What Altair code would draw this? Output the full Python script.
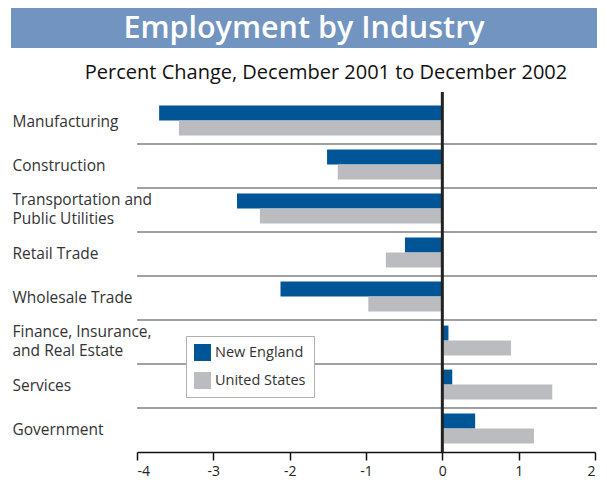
import altair as alt
import pandas as pd

industries = [
    "Manufacturing",
    "Construction",
    "Transportation and|Public Utilities",
    "Retail Trade",
    "Wholesale Trade",
    "Finance, Insurance,|and Real Estate",
    "Services",
    "Government",
]
new_england = [-3.71, -1.51, -2.69, -0.49, -2.12, 0.08, 0.13, 0.43]
united_states = [-3.45, -1.37, -2.39, -0.74, -0.97, 0.90, 1.44, 1.20]
series = ["New England", "United States"]
series_colors = ["#005596", "#bbbcc0"]
x_ticks = [-4, -3, -2, -1, 0, 1, 2]

title_text = "Employment by Industry"
subtitle_text = "Percent Change, December 2001 to December 2002"

FONT = "Open Sans"
W, H = 458, 352

rows = []
for ind, ne, us in zip(industries, new_england, united_states):
    rows.append({"industry": ind, "series": series[0], "value": ne})
    rows.append({"industry": ind, "series": series[1], "value": us})
df = pd.DataFrame(rows)

y_enc = alt.Y(
    "industry:N",
    sort=industries,
    scale=alt.Scale(paddingInner=0, paddingOuter=0),
    axis=alt.Axis(
        title=None,
        ticks=False,
        domain=False,
        labelAlign="left",
        labelPadding=125,
        labelFont=FONT,
        labelFontSize=15.5,
        labelColor="#333333",
        labelLineHeight=19,
        labelLimit=200,
        labelOffset={
            "condition": {"test": "indexof(datum.value, '|') >= 0", "value": -10},
            "value": 0,
        },
        labelExpr="split(datum.label, '|')",
    ),
)

x_scale = alt.Scale(domain=[-4, 2], nice=False, zero=False)

bars = alt.Chart(df).mark_bar(cornerRadius=0).encode(
    x=alt.X(
        "value:Q",
        scale=x_scale,
        axis=alt.Axis(
            title=None,
            values=x_ticks,
            grid=False,
            domainColor="#111111",
            domainWidth=1.5,
            tickColor="#111111",
            tickWidth=1.5,
            tickSize=8,
            labelFont=FONT,
            labelFontSize=14,
            labelColor="#222222",
            labelPadding=4,
            labelExpr="'' + datum.value",
        ),
    ),
    y=y_enc,
    yOffset=alt.YOffset(
        "series:N",
        sort=series,
        scale=alt.Scale(paddingInner=0, paddingOuter=0.4667, align=0.4),
    ),
    color=alt.Color(
        "series:N",
        sort=series,
        scale=alt.Scale(domain=series, range=series_colors),
        legend=alt.Legend(
            title=None,
            orient="none",
            legendX=49,
            legendY=236,
            direction="vertical",
            fillColor="white",
            strokeColor="#b0b0b0",
            padding=8,
            symbolType="square",
            symbolSize=289,
            symbolStrokeWidth=0,
            labelFont=FONT,
            labelFontSize=14.5,
            labelColor="#333333",
            labelOffset=4,
            rowPadding=11,
        ),
    ),
)

sep_df = pd.DataFrame({"industry": industries[:-1]})
separators = alt.Chart(sep_df).mark_rule(color="#a0a0a0", strokeWidth=2).encode(
    y=alt.Y("industry:N", sort=industries, bandPosition=1),
    x=alt.value(0),
    x2=alt.value(W + 2),
)

zero_line = alt.Chart(pd.DataFrame({"z": [0]})).mark_rule(
    color="#222222", strokeWidth=3
).encode(
    x=alt.X("z:Q", scale=x_scale),
    y=alt.value(-8),
    y2=alt.value(H),
)

banner = alt.Chart(pd.DataFrame({"t": [title_text]})).mark_rect(
    color="#7294c1"
).encode(
    x=alt.value(-126),
    x2=alt.value(460),
    y=alt.value(-92),
    y2=alt.value(-52),
)

banner_text = alt.Chart(pd.DataFrame({"t": [title_text]})).mark_text(
    font=FONT, fontSize=30.5, fontWeight=600, color="white", baseline="middle", align="center"
).encode(
    text="t:N",
    x=alt.value(167),
    y=alt.value(-71),
)

subtitle = alt.Chart(pd.DataFrame({"t": [subtitle_text]})).mark_text(
    font=FONT, fontSize=20, color="#111111", baseline="middle", align="center"
).encode(
    text="t:N",
    x=alt.value(189),
    y=alt.value(-27),
)

chart = alt.layer(
    separators, bars, zero_line, banner, banner_text, subtitle
).resolve_scale(y="shared").properties(
    width=W,
    height=H,
    padding={"left": 3, "top": 0, "right": 0, "bottom": 0},
).configure_view(stroke=None).configure_axisY(labelBound=False)

chart.save("out.html", embed_options={"renderer": "svg", "actions": False})
